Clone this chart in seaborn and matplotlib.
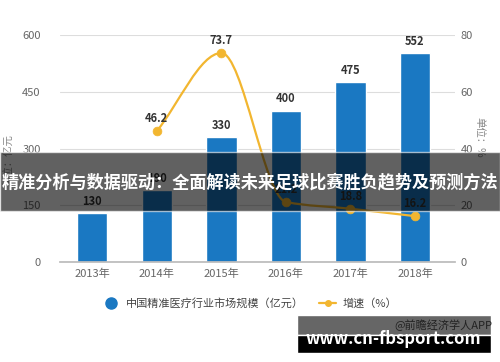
import numpy as np
import pandas as pd
import matplotlib
matplotlib.use("Agg")
import matplotlib.pyplot as plt
from matplotlib.path import Path
from matplotlib.patches import PathPatch, Rectangle
from matplotlib.lines import Line2D
import seaborn as sns

# ---------------------------------------------------------
# Data
# ---------------------------------------------------------
years = ["2013年", "2014年", "2015年", "2016年", "2017年", "2018年"]
market_size = [130, 190, 330, 400, 475, 552]
growth_years = ["2014年", "2015年", "2016年", "2017年", "2018年"]
growth_rate = [46.2, 73.7, 21.2, 18.8, 16.2]

bar_color = "#1a78c2"
line_color = "#f2b630"
text_color = "#333333"
tick_color = "#666666"

sns.set_theme(style="white")
plt.rcParams["font.family"] = ["Noto Sans CJK SC", "DejaVu Sans"]
plt.rcParams["axes.unicode_minus"] = False

df = pd.DataFrame({"year": years, "size": market_size})

fig = plt.figure(figsize=(5, 3.62), dpi=100)
ax = fig.add_axes([0.12, 0.276, 0.79, 0.627])

sns.barplot(data=df, x="year", y="size", color=bar_color, width=0.47,
            saturation=1, ax=ax, zorder=2)
ax.set_ylim(0, 600)
ax.set_xlim(-0.5, 5.62)
ax.set_yticks([0, 150, 300, 450, 600])
ax.yaxis.grid(True, color="#dddddd", linewidth=0.8, zorder=0)
ax.set_axisbelow(True)
for s in ["top", "right", "left"]:
    ax.spines[s].set_visible(False)
ax.spines["bottom"].set_color("#bbbbbb")
ax.tick_params(axis="x", colors=tick_color, labelsize=8, length=3, color="#bbbbbb", pad=2)
ax.tick_params(axis="y", colors=tick_color, labelsize=8, length=0, pad=14)
ax.set_xlabel("")
ax.set_ylabel("单位：亿元", fontsize=7.5, color="#888888", labelpad=0)
ax.yaxis.set_label_coords(-0.115, 0.45)

for i, v in enumerate(market_size):
    ax.text(i, v + 14, str(v), ha="center", va="bottom", fontsize=8,
            fontweight="bold", color=text_color)

# growth line on secondary axis
ax2 = ax.twinx()
ax2.set_ylim(0, 80)
ax2.set_yticks([0, 20, 40, 60, 80])
for s in ["top", "right", "left", "bottom"]:
    ax2.spines[s].set_visible(False)
ax2.tick_params(axis="y", colors=tick_color, labelsize=8, length=0, pad=4)
ax2.set_ylabel("单位：%", fontsize=7.5, color="#888888", rotation=270, labelpad=0)
ax2.yaxis.set_label_coords(1.075, 0.55)

gx = np.array([years.index(y) for y in growth_years], dtype=float)
gy = np.array(growth_rate)

# smooth monotone path (Fritsch-Carlson tangents -> cubic Bezier)
n = len(gx)
d = np.diff(gy) / np.diff(gx)
m = np.zeros(n)
m[0], m[-1] = d[0], d[-1]
for i in range(1, n - 1):
    if d[i - 1] * d[i] <= 0:
        m[i] = 0.0
    else:
        m[i] = 2 / (1 / d[i - 1] + 1 / d[i])
verts = [(gx[0], gy[0])]
codes = [Path.MOVETO]
for i in range(n - 1):
    h = gx[i + 1] - gx[i]
    verts += [(gx[i] + h / 3, gy[i] + m[i] * h / 3),
              (gx[i + 1] - h / 3, gy[i + 1] - m[i + 1] * h / 3),
              (gx[i + 1], gy[i + 1])]
    codes += [Path.CURVE4] * 3
ax2.add_patch(PathPatch(Path(verts, codes), fill=False, edgecolor=line_color,
                        linewidth=1.6, zorder=3))
sns.scatterplot(x=gx, y=gy, color=line_color, s=40, edgecolor=line_color,
                ax=ax2, zorder=4)
for x, y in zip(gx, gy):
    ax2.text(x, y + 2.2, f"{y}", ha="center", va="bottom", fontsize=8,
             fontweight="bold", color=text_color)

# legend
handles = [
    Line2D([], [], marker="o", linestyle="none", color=bar_color, markersize=8),
    Line2D([], [], marker="o", color=line_color, markersize=4, linewidth=1.6),
]
labels = ["中国精准医疗行业市场规模（亿元）", "增速（%）"]
fig.legend(handles, labels, loc="center", bbox_to_anchor=(0.5, 0.163), ncol=2,
           frameon=False, fontsize=8, labelcolor="#444444", handlelength=1.5,
           columnspacing=1.4, handletextpad=0.6)

# overlay banner
fig.patches.append(Rectangle((0, 1 - 211 / 362), 1, 59 / 362, transform=fig.transFigure,
                             facecolor="black", alpha=0.62, zorder=10))
fig.text(0.5, 1 - 182 / 362, "精准分析与数据驱动：全面解读未来足球比赛胜负趋势及预测方法",
         ha="center", va="center", fontsize=12.3, fontweight="bold", color="white",
         zorder=11)

# watermark box
fig.patches.append(Rectangle((297 / 500, 1 - 335 / 362), 194 / 500, 20 / 362,
                             transform=fig.transFigure, facecolor="#666666", zorder=10))
fig.patches.append(Rectangle((297 / 500, 1 - 353 / 362), 194 / 500, 18 / 362,
                             transform=fig.transFigure, facecolor="black", zorder=10))
fig.text(0.985, 1 - 325 / 362, "@前瞻经济学人APP", ha="right", va="center",
         fontsize=8, color="#222222", zorder=11)
fig.text(0.786, 1 - 339 / 362, "www.cn-fbsport.com", ha="center", va="center",
         fontsize=12, fontweight="bold", color="white", zorder=12)

fig.savefig("out.png", dpi=100)
